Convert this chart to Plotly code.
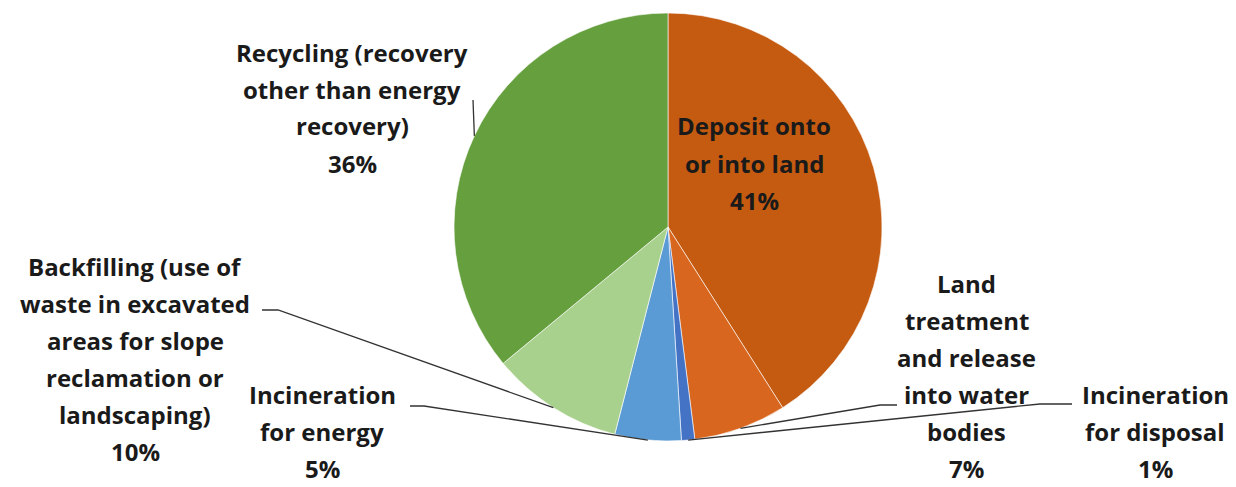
import math
import plotly.graph_objects as go

# Waste treatment shares (%), clockwise from 12 o'clock
categories = [
    "Deposit onto or into land",
    "Land treatment and release into water bodies",
    "Incineration for disposal",
    "Incineration for energy",
    "Backfilling (use of waste in excavated areas for slope reclamation or landscaping)",
    "Recycling (recovery other than energy recovery)",
]
shares = [41, 7, 1, 5, 10, 36]
colors = ["#C55A11", "#D8661E", "#4472C4", "#5B9BD5", "#A9D18E", "#669F3E"]

# Label text, broken into the lines as displayed
label_lines = [
    ["Deposit onto", "or into land"],
    ["Land", "treatment", "and release", "into water", "bodies"],
    ["Incineration", "for disposal"],
    ["Incineration", "for energy"],
    ["Backfilling (use of", "waste in excavated", "areas for slope", "reclamation or", "landscaping)"],
    ["Recycling (recovery", "other than energy", "recovery)"],
]

W, H = 1236, 487
CX, CY, R = 668, 227, 214          # pie centre and radius in pixels
LINE_GAP = 37                      # vertical spacing between label lines

# label block placement: (centre x, first-line y), in pixels
label_pos = [(754, 126), (967, 283), (1155, 394), (322, 394), (135, 266), (352, 52)]
# leader-line stub on the label side as (x0, x1, y); None = no leader
leader_stub = [None, (897, 880, 405), (1072, 1040, 404), (410, 424, 406),
               (262, 278, 310), (473, 473, 100)]

FONT = dict(family="'Open Sans', sans-serif", size=24, color="#1a1a1a")


def px(x):
    return x / W


def py(y):
    return 1 - y / H


fig = go.Figure(go.Pie(
    labels=categories,
    values=shares,
    sort=False,
    direction="clockwise",
    rotation=0,
    marker=dict(colors=colors, line=dict(color="rgba(255,255,255,0.6)", width=1)),
    textinfo="none",
    hoverinfo="label+percent",
    domain=dict(x=[px(CX - R), px(CX + R)], y=[py(CY + R), py(CY - R)]),
    showlegend=False,
))

annotations = []
shapes = []
total = sum(shares)
cum = 0
for i, v in enumerate(shares):
    pct = round(100 * v / total)
    lines = label_lines[i] + [f"{pct}%"]
    lx, ly = label_pos[i]
    for k, t in enumerate(lines):
        annotations.append(dict(
            text=f"<b>{t}</b>", x=px(lx), y=py(ly + k * LINE_GAP),
            xref="paper", yref="paper", xanchor="center", yanchor="middle",
            showarrow=False, font=FONT, borderpad=0,
        ))
    # slice mid-angle, measured clockwise from the top
    mid = (cum + v / 2) / total * 2 * math.pi
    cum += v
    stub = leader_stub[i]
    if stub is None:
        continue
    ex = CX + R * math.sin(mid)
    ey = CY - R * math.cos(mid)
    x0, x1, sy = stub
    path = f"M {px(x0)} {py(sy)} L {px(x1)} {py(sy)} L {px(ex)} {py(ey)}"
    shapes.append(dict(type="path", path=path, xref="paper", yref="paper",
                       line=dict(color="#333333", width=1.3)))

fig.update_layout(
    width=W, height=H,
    margin=dict(l=0, r=0, t=0, b=0),
    paper_bgcolor="white", plot_bgcolor="white",
    annotations=annotations, shapes=shapes,
)

fig.write_html("out.html")
